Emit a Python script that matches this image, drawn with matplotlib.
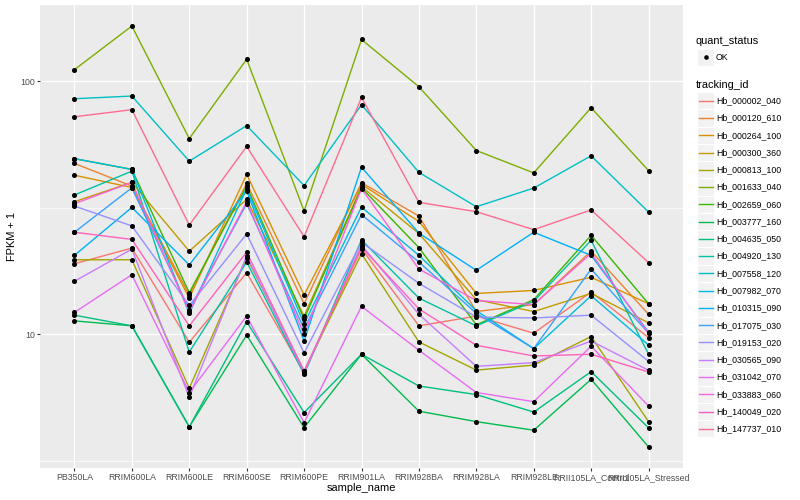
import numpy as np
import matplotlib
matplotlib.use("Agg")
import matplotlib.pyplot as plt
from matplotlib.ticker import FixedLocator, NullFormatter, FuncFormatter
from matplotlib.patches import Rectangle

plt.rcParams['font.family'] = ['Liberation Sans', 'DejaVu Sans']

samples = ["PB350LA", "RRIM600LA", "RRIM600LE", "RRIM600SE", "RRIM600PE",
           "RRIM901LA", "RRIM928BA", "RRIM928LA", "RRIM928LE",
           "RRII105LA_Control", "RRII105LA_Stressed"]

tracking_ids = ["Hb_000002_040", "Hb_000120_610", "Hb_000264_100", "Hb_000300_360",
                "Hb_000813_100", "Hb_001633_040", "Hb_002659_060", "Hb_003777_160",
                "Hb_004635_050", "Hb_004920_130", "Hb_007558_120", "Hb_007982_070",
                "Hb_010315_090", "Hb_017075_030", "Hb_019153_020", "Hb_030565_090",
                "Hb_031042_070", "Hb_033883_060", "Hb_140049_020", "Hb_147737_010"]

# FPKM + 1 per gene, one value per sample
hb_000002_040 = [19.0, 21.9, 9.30, 17.5, 7.06, 21.8, 10.8, 11.8, 10.1, 14.7, 9.70]
hb_000120_610 = [47.3, 38.5, 14.3, 39.5, 13.2, 39.7, 29.3, 12.3, 13.1, 21.3, 12.0]
hb_000264_100 = [42.5, 38.0, 13.9, 42.8, 14.3, 39.1, 27.9, 14.5, 14.9, 16.8, 13.2]
hb_000300_360 = [33.4, 39.8, 21.3, 34.1, 11.8, 38.3, 25.0, 13.7, 12.3, 14.5, 11.1]
hb_000813_100 = [19.7, 19.7, 6.12, 20.1, 7.16, 20.8, 9.33, 7.22, 7.56, 9.80, 4.52]
hb_001633_040 = [111, 165, 59.3, 122, 30.7, 146, 95.0, 53.2, 43.4, 78.5, 44.3]
hb_002659_060 = [49.4, 44.8, 14.6, 38.5, 11.5, 37.9, 22.0, 10.9, 13.7, 24.6, 13.2]
hb_003777_160 = [11.3, 10.8, 4.31, 9.93, 4.28, 8.34, 4.97, 4.52, 4.18, 6.64, 3.59]
hb_004635_050 = [11.9, 10.8, 4.31, 11.2, 4.91, 8.34, 6.25, 5.78, 4.93, 7.12, 4.27]
hb_004920_130 = [35.5, 44.1, 8.51, 19.3, 6.95, 23.6, 13.9, 10.8, 13.5, 23.5, 8.34]
hb_007558_120 = [85.2, 87.3, 48.3, 66.7, 38.7, 80.7, 43.6, 31.9, 37.8, 50.7, 30.4]
hb_007982_070 = [49.4, 44.8, 12.1, 37.6, 11.0, 31.8, 20.5, 12.4, 8.78, 14.2, 9.07]
hb_010315_090 = [20.5, 31.7, 18.8, 36.8, 9.41, 45.7, 25.1, 17.9, 25.3, 20.5, 10.2]
hb_017075_030 = [25.3, 37.9, 12.5, 32.8, 10.5, 29.7, 19.3, 12.1, 8.78, 18.1, 10.1]
hb_019153_020 = [32.1, 26.8, 13.0, 24.9, 8.44, 23.1, 15.9, 11.7, 11.6, 11.9, 7.82]
hb_030565_090 = [16.2, 21.7, 5.64, 20.4, 7.06, 22.5, 12.0, 7.47, 7.73, 9.41, 7.21]
hb_031042_070 = [12.2, 17.2, 5.89, 11.8, 4.48, 12.9, 8.65, 5.89, 5.42, 8.97, 5.21]
hb_033883_060 = [32.8, 39.8, 12.3, 33.4, 10.0, 37.6, 18.1, 13.6, 13.1, 20.9, 10.1]
hb_140049_020 = [25.3, 23.7, 10.8, 21.1, 7.16, 22.1, 12.6, 9.05, 8.21, 8.34, 7.10]
hb_147737_010 = [72.3, 77.1, 27.0, 55.2, 24.3, 86.2, 33.2, 30.5, 25.9, 31.0, 19.2]

series = [hb_000002_040, hb_000120_610, hb_000264_100, hb_000300_360, hb_000813_100,
          hb_001633_040, hb_002659_060, hb_003777_160, hb_004635_050, hb_004920_130,
          hb_007558_120, hb_007982_070, hb_010315_090, hb_017075_030, hb_019153_020,
          hb_030565_090, hb_031042_070, hb_033883_060, hb_140049_020, hb_147737_010]

# ggplot2 default hue palette for 20 levels
colors = ["#F8766D", "#EA8331", "#D89000", "#C09B00", "#A3A500", "#7CAE00", "#39B600",
          "#00BB4E", "#00BF7D", "#00C1A3", "#00BFC4", "#00BAE0", "#00B0F6", "#35A2FF",
          "#9590FF", "#C77CFF", "#E76BF3", "#FA62DB", "#FF62BC", "#FF6C91"]

W, H = 800, 500
fig = plt.figure(figsize=(8, 5), dpi=100)
ax = fig.add_axes([40 / W, 32 / H, 643 / W, 463 / H])
ax.set_facecolor("#EBEBEB")
for s in ax.spines.values():
    s.set_visible(False)

x = np.arange(len(samples))
for vals, col in zip(series, colors):
    ax.plot(x, vals, color=col, lw=1.0, zorder=2)
for vals in series:
    ax.plot(x, vals, "o", color="black", ms=2.6, zorder=3)

ax.set_yscale("log")
allv = np.concatenate([np.asarray(v, float) for v in series])
lo, hi = np.log10(allv.min()), np.log10(allv.max())
pad = 0.05 * (hi - lo)
ax.set_ylim(10 ** (lo - pad), 10 ** (hi + pad))
ax.set_xlim(-0.6, len(samples) - 0.4)

ax.yaxis.set_major_locator(FixedLocator([10, 100]))
ax.yaxis.set_major_formatter(FuncFormatter(lambda v, p: f"{v:g}"))
ax.yaxis.set_minor_locator(FixedLocator([10 ** 0.5, 10 ** 1.5, 10 ** 2.5]))
ax.yaxis.set_minor_formatter(NullFormatter())
ax.set_xticks(x)
ax.set_xticklabels(samples)

ax.grid(True, which="major", color="white", lw=1.0, zorder=0)
ax.grid(True, which="minor", axis="y", color="white", lw=0.5, zorder=0)
ax.set_axisbelow(True)
ax.tick_params(which="major", length=2.0, width=0.8, color="#333333",
               labelcolor="#4D4D4D", labelsize=6.3, pad=1.5)
ax.tick_params(which="minor", length=0)

fig.text(361.5 / W, 1 - 488 / H, "sample_name", ha="center", va="center", fontsize=7.9)
fig.text(12 / W, 1 - 236.5 / H, "FPKM + 1", ha="center", va="center",
         rotation=90, fontsize=7.9)

# legend, drawn in pixel space on an overlay axes
lax = fig.add_axes([0, 0, 1, 1])
lax.set_xlim(0, W)
lax.set_ylim(H, 0)
lax.axis("off")
lax.patch.set_visible(False)

kx, kw = 697, 17
lax.text(696, 41, "quant_status", ha="left", va="center", fontsize=7.9)
lax.add_patch(Rectangle((kx, 48.5), kw, 17, facecolor="#F2F2F2", edgecolor="white", lw=0.8))
lax.plot([kx + kw / 2], [57], "o", color="black", ms=2.3)
lax.text(716, 57, "OK", ha="left", va="center", fontsize=6.3)

lax.text(696, 84.5, "tracking_id", ha="left", va="center", fontsize=7.9)
step = 17.27
for i, (name, col) in enumerate(zip(tracking_ids, colors)):
    yc = 100.7 + i * step
    lax.add_patch(Rectangle((kx, yc - step / 2), kw, step, facecolor="#F2F2F2",
                            edgecolor="white", lw=0.8))
    lax.plot([kx + 1.5, kx + kw - 1.5], [yc, yc], color=col, lw=1.0)
    lax.text(716, yc, name, ha="left", va="center", fontsize=6.3)

fig.savefig("out.png", dpi=100, facecolor="white")
